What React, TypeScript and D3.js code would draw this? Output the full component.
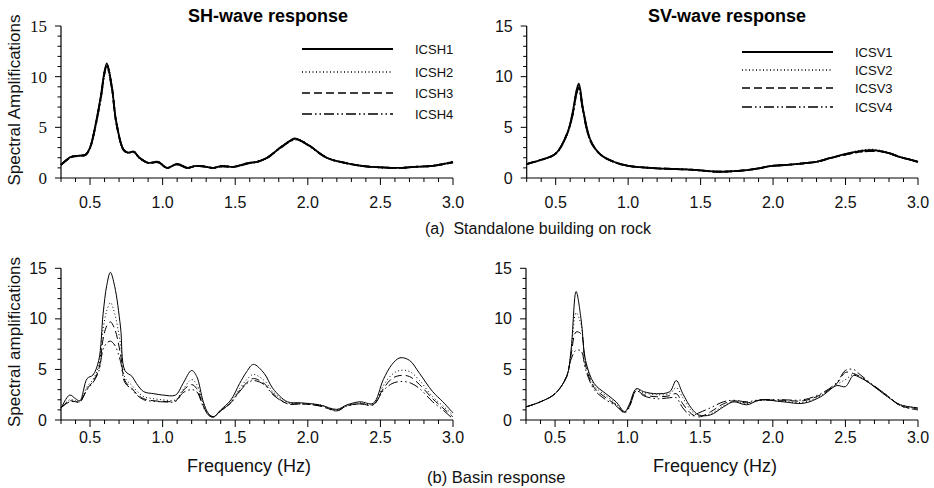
import React from "react";
import * as d3 from "d3";

// ---------- DATA ----------
const xTickLabels = ["0.5", "1.0", "1.5", "2.0", "2.5", "3.0"];
const yTickLabels = ["0", "5", "10", "15"];

// (a) SH-wave, standalone building on rock
const shRockFreq = [0.30,0.37,0.43,0.47,0.50,0.53,0.57,0.615,0.65,0.68,0.73,0.76,0.80,0.84,0.90,0.97,1.03,1.10,1.17,1.23,1.30,1.35,1.41,1.49,1.58,1.65,1.72,1.81,1.87,1.91,1.95,2.02,2.13,2.27,2.40,2.50,2.57,2.65,2.73,2.86,3.00];
const icsh1Rock = [1.3,2.1,2.2,2.3,3.0,4.7,7.7,11.3,9.0,5.6,2.8,2.5,2.6,2.0,1.5,1.6,1.0,1.4,1.0,1.2,1.1,1.0,1.2,1.1,1.45,1.6,2.0,3.0,3.6,3.9,3.7,3.1,2.0,1.45,1.15,1.05,1.0,1.0,1.1,1.2,1.6];
const icsh2Rock = [1.3,2.1,2.2,2.3,3.0,4.7,7.6,11.2,9.0,5.6,2.8,2.5,2.6,2.0,1.5,1.6,1.0,1.4,1.0,1.2,1.1,1.0,1.2,1.1,1.45,1.6,2.0,3.0,3.6,3.85,3.7,3.1,2.0,1.45,1.15,1.05,1.0,1.0,1.1,1.2,1.6];
const icsh3Rock = [1.3,2.05,2.2,2.3,3.0,4.6,7.6,11.1,9.0,5.5,2.8,2.5,2.6,2.0,1.5,1.55,1.0,1.35,1.0,1.2,1.1,1.0,1.15,1.1,1.45,1.6,2.0,3.0,3.6,3.8,3.7,3.1,2.0,1.45,1.15,1.05,1.0,1.0,1.1,1.2,1.55];
const icsh4Rock = [1.3,2.05,2.2,2.3,2.95,4.6,7.5,11.0,8.9,5.5,2.8,2.5,2.55,2.0,1.5,1.55,1.0,1.35,1.0,1.2,1.1,1.0,1.15,1.1,1.4,1.6,2.0,2.95,3.55,3.8,3.65,3.05,2.0,1.45,1.15,1.05,1.0,1.0,1.1,1.2,1.55];

// (a) SV-wave, standalone building on rock
const svRockFreq = [0.30,0.40,0.50,0.58,0.62,0.645,0.66,0.69,0.74,0.81,0.90,1.00,1.10,1.20,1.30,1.40,1.50,1.61,1.70,1.80,1.90,1.98,2.10,2.21,2.30,2.39,2.51,2.60,2.67,2.72,2.80,2.88,2.95,3.00];
const icsv1Rock = [1.38,1.8,2.4,4.4,6.7,8.7,9.3,6.7,3.75,2.3,1.6,1.2,1.05,0.95,0.9,0.85,0.75,0.62,0.65,0.75,0.95,1.18,1.3,1.45,1.6,1.95,2.4,2.65,2.75,2.7,2.45,2.05,1.8,1.6];
const icsv2Rock = [1.38,1.8,2.4,4.4,6.6,8.6,9.0,6.6,3.7,2.3,1.6,1.2,1.05,0.95,0.9,0.85,0.75,0.62,0.65,0.75,0.95,1.18,1.3,1.45,1.6,1.95,2.4,2.7,2.8,2.75,2.45,2.05,1.8,1.6];
const icsv3Rock = [1.38,1.8,2.4,4.4,6.5,8.5,8.9,6.6,3.7,2.3,1.6,1.2,1.05,0.95,0.9,0.85,0.75,0.62,0.65,0.75,0.95,1.18,1.3,1.45,1.6,1.95,2.35,2.6,2.7,2.7,2.45,2.05,1.8,1.6];
const icsv4Rock = [1.38,1.8,2.4,4.4,6.4,8.4,8.8,6.5,3.65,2.3,1.6,1.2,1.05,0.95,0.9,0.85,0.75,0.62,0.65,0.75,0.95,1.18,1.3,1.45,1.6,1.95,2.35,2.6,2.65,2.65,2.45,2.05,1.8,1.6];

// (b) SH-wave, basin response
const shBasinFreq = [0.30,0.36,0.40,0.43,0.48,0.52,0.56,0.59,0.615,0.64,0.67,0.71,0.74,0.79,0.82,0.87,0.94,1.00,1.09,1.14,1.20,1.235,1.28,1.315,1.35,1.40,1.47,1.53,1.58,1.625,1.70,1.76,1.86,1.95,2.08,2.20,2.27,2.36,2.45,2.52,2.58,2.635,2.70,2.77,2.86,2.93,3.00];
const icsh1Basin = [1.15,2.47,2.1,1.9,4.1,4.45,5.9,10.5,13.3,14.6,13.2,9.2,4.9,4.3,3.6,2.8,2.6,2.47,2.47,3.6,4.9,4.3,1.8,0.66,0.33,1.0,1.98,3.6,4.8,5.5,4.6,3.1,1.8,1.7,1.5,1.05,1.5,1.8,1.65,4.0,5.5,6.15,5.9,4.6,2.8,1.8,0.7];
const icsh2Basin = [1.2,2.0,1.9,1.8,3.3,4.0,5.4,9.0,10.8,11.6,10.5,7.5,4.2,3.4,2.9,2.3,2.1,2.0,2.0,3.0,4.0,3.5,1.6,0.6,0.3,0.9,1.8,3.1,4.0,4.5,3.9,2.8,1.7,1.6,1.5,1.0,1.4,1.7,1.55,3.4,4.5,4.9,4.8,3.9,2.3,1.4,0.5];
const icsh3Basin = [1.2,1.9,1.8,1.8,3.1,3.8,5.0,8.0,9.3,9.7,9.0,6.5,3.9,3.1,2.6,2.1,1.9,1.85,1.9,2.9,3.5,3.1,1.4,0.5,0.3,0.9,1.7,2.9,3.7,4.1,3.6,2.6,1.6,1.6,1.4,0.95,1.4,1.6,1.5,3.1,4.1,4.4,4.3,3.5,2.1,1.2,0.3];
const icsh4Basin = [1.2,1.8,1.8,1.8,3.0,3.7,4.8,7.0,7.6,7.8,7.4,5.8,3.7,3.0,2.5,2.0,1.85,1.8,1.85,2.7,3.0,2.8,1.3,0.5,0.3,0.9,1.7,2.8,3.6,3.9,3.5,2.5,1.6,1.6,1.4,0.9,1.4,1.6,1.5,2.9,3.6,3.8,3.7,3.1,1.8,1.0,0.1];

// (b) SV-wave, basin response
const svBasinFreq = [0.30,0.40,0.50,0.58,0.61,0.645,0.68,0.71,0.77,0.85,0.92,0.98,1.01,1.06,1.11,1.20,1.29,1.335,1.38,1.44,1.49,1.57,1.66,1.73,1.82,1.91,2.07,2.21,2.33,2.44,2.50,2.555,2.60,2.67,2.79,2.88,3.00];
const icsv1Basin = [1.3,1.8,2.6,4.3,6.9,12.7,9.9,5.9,3.6,2.6,1.8,0.82,1.5,3.1,2.8,2.6,2.8,3.9,2.6,1.15,0.5,0.5,1.3,1.8,1.5,1.98,1.8,1.65,2.3,3.4,3.3,4.4,4.2,3.6,2.3,1.5,1.2];
const icsv2Basin = [1.3,1.8,2.6,4.3,6.6,10.6,9.4,5.7,3.4,2.4,1.6,0.8,1.4,3.0,2.7,2.5,2.6,3.2,2.2,0.9,0.4,0.6,1.4,1.8,1.6,1.95,1.85,1.75,2.4,3.5,4.0,4.5,4.3,3.6,2.3,1.5,1.2];
const icsv3Basin = [1.3,1.8,2.6,4.3,6.4,8.7,8.5,5.4,3.2,2.2,1.5,0.75,1.3,2.9,2.5,2.3,2.4,2.6,1.6,0.6,0.3,0.8,1.6,1.9,1.7,1.95,1.95,1.9,2.5,3.6,4.7,4.6,4.3,3.6,2.4,1.4,1.1];
const icsv4Basin = [1.3,1.8,2.6,4.3,6.0,6.9,6.8,5.0,3.0,2.0,1.4,0.7,1.2,2.9,2.4,2.1,2.2,2.2,1.2,0.4,0.7,1.2,1.8,1.95,1.8,2.0,2.0,2.0,2.6,3.7,4.9,5.0,4.5,3.7,2.4,1.4,1.0];

const shNames = ["ICSH1", "ICSH2", "ICSH3", "ICSH4"];
const svNames = ["ICSV1", "ICSV2", "ICSV3", "ICSV4"];

// ---------- STYLE ----------
const SANS = "'Liberation Sans', Arial, Helvetica, sans-serif";
const SERIF = "'Liberation Serif', 'Times New Roman', serif";
const dashes = ["none", "1,2.5", "8,4", "10,3,1.5,3,1.5,3"];

type PanelProps = {
  x0: number; x1: number; yTop: number; yBot: number;
  freq: number[]; series: number[][];
  strokeW: number; tickFont: string; xLabelDy: number;
};

function Panel({ x0, x1, yTop, yBot, freq, series, strokeW, tickFont, xLabelDy }: PanelProps) {
  const x = d3.scaleLinear().domain([0.3, 3.0]).range([x0, x1]);
  const y = d3.scaleLinear().domain([0, 15]).range([yBot, yTop]);
  const line = d3.line<number>()
    .x((_, i) => x(freq[i]))
    .y((v) => y(v))
    .curve(d3.curveCatmullRom.alpha(0.5));
  const xTicks = d3.range(3, 31).map((k) => k / 10);
  const yTicks = d3.range(0, 16);
  return (
    <g>
      <g>
        {series.map((s, i) => (
          <path key={i} d={line(s) || ""} fill="none" stroke="#000"
            strokeWidth={strokeW} strokeDasharray={dashes[i]} strokeLinejoin="round" />
        ))}
      </g>
      <line x1={x0} x2={x1} y1={yBot} y2={yBot} stroke="#000" strokeWidth={1.2} />
      <line x1={x0} x2={x0} y1={yTop} y2={yBot} stroke="#000" strokeWidth={1.2} />
      {xTicks.map((t) => {
        const major = Math.abs(t * 2 - Math.round(t * 2)) < 1e-6;
        return <line key={t} x1={x(t)} x2={x(t)} y1={yBot} y2={yBot + (major ? 7 : 4)} stroke="#000" strokeWidth={1} />;
      })}
      {yTicks.map((t) => (
        <line key={t} x1={x0 - (t % 5 === 0 ? 6 : 3.5)} x2={x0} y1={y(t)} y2={y(t)} stroke="#000" strokeWidth={1} />
      ))}
      {xTickLabels.map((l) => (
        <text key={l} x={x(+l)} y={yBot + xLabelDy} textAnchor="middle" fontFamily={SANS} fontSize={16} fill="#111">{l}</text>
      ))}
      {yTickLabels.map((l) => (
        <text key={l} x={x0 - 14} y={y(+l)} dy="0.35em" textAnchor="end" fontFamily={tickFont} fontSize={tickFont === SERIF ? 17 : 16} fill="#111">{l}</text>
      ))}
    </g>
  );
}

function Legend({ x1, x2, tx, ys, names }: { x1: number; x2: number; tx: number; ys: number[]; names: string[] }) {
  return (
    <g>
      {names.map((n, i) => (
        <g key={n}>
          <line x1={x1} x2={x2} y1={ys[i]} y2={ys[i]} stroke="#000" strokeWidth={i === 0 ? 2 : 1.5} strokeDasharray={dashes[i]} />
          <text x={tx} y={ys[i]} dy="0.35em" fontFamily={SANS} fontSize={13} fill="#111">{n}</text>
        </g>
      ))}
    </g>
  );
}

export default function App() {
  return (
    <div style={{ position: "absolute", left: 0, top: 0, width: 934, height: 488, background: "#fff" }}>
      <svg width={934} height={488} viewBox="0 0 934 488" style={{ display: "block" }}>
        <rect x={0} y={0} width={934} height={488} fill="#fff" />
        {/* titles */}
        <text x={268} y={22} textAnchor="middle" fontFamily={SANS} fontWeight="bold" fontSize={18}>SH-wave response</text>
        <text x={727} y={22} textAnchor="middle" fontFamily={SANS} fontWeight="bold" fontSize={18}>SV-wave response</text>

        <Panel x0={61} x1={453} yTop={26} yBot={178} freq={shRockFreq}
          series={[icsh1Rock, icsh2Rock, icsh3Rock, icsh4Rock]} strokeW={1.8} tickFont={SERIF} xLabelDy={30} />
        <Panel x0={526.7} x1={918} yTop={26} yBot={178} freq={svRockFreq}
          series={[icsv1Rock, icsv2Rock, icsv3Rock, icsv4Rock]} strokeW={1.8} tickFont={SANS} xLabelDy={30} />
        <Panel x0={61} x1={453} yTop={268.3} yBot={420} freq={shBasinFreq}
          series={[icsh1Basin, icsh2Basin, icsh3Basin, icsh4Basin]} strokeW={1} tickFont={SANS} xLabelDy={23} />
        <Panel x0={526} x1={918} yTop={268.3} yBot={420} freq={svBasinFreq}
          series={[icsv1Basin, icsv2Basin, icsv3Basin, icsv4Basin]} strokeW={1} tickFont={SANS} xLabelDy={23} />

        <Legend x1={302} x2={393} tx={415} ys={[49, 72, 93, 114]} names={shNames} />
        <Legend x1={742} x2={833} tx={855} ys={[52, 70, 88, 107]} names={svNames} />

        {/* axis titles */}
        <text transform="translate(20,100) rotate(-90)" textAnchor="middle" fontFamily={SANS} fontSize={17} fill="#111">Spectral Amplifications</text>
        <text transform="translate(20,342) rotate(-90)" textAnchor="middle" fontFamily={SANS} fontSize={17} fill="#111">Spectral amplifications</text>
        <text x={249} y={472} textAnchor="middle" fontFamily={SANS} fontSize={18} fill="#111">Frequency (Hz)</text>
        <text x={715} y={472} textAnchor="middle" fontFamily={SANS} fontSize={18} fill="#111">Frequency (Hz)</text>

        {/* captions */}
        <text x={425} y={234} fontFamily={SANS} fontSize={16} fill="#111" style={{ whiteSpace: "pre" }}>{"(a)  Standalone building on rock"}</text>
        <text x={427} y={483} fontFamily={SANS} fontSize={16.5} fill="#111">(b) Basin response</text>
      </svg>
    </div>
  );
}
